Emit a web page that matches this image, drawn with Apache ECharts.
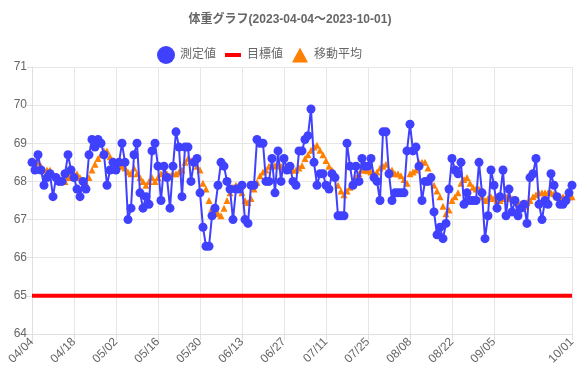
<!DOCTYPE html>
<html><head><meta charset="utf-8">
<script src="https://cdn.jsdelivr.net/npm/echarts@6/dist/echarts.min.js"></script>
<style>html,body{margin:0;padding:0;background:#fff}#c{width:580px;height:390px}</style>
</head><body><div id="c"></div>
<script>
var titleText = '体重グラフ(2023-04-04〜2023-10-01)';
var seriesNames = ['測定値', '目標値', '移動平均'];
var startDate = '2023-04-04';
var dayCount = 181;
var yTicks = [64, 65, 66, 67, 68, 69, 70, 71];
var targetWeight = 65;
var weights = [
 68.5, 68.3, 68.7, 68.3, 67.9, 68.1, 68.2, 67.6, 68.1, 68.0,
 68.0, 68.2, 68.7, 68.3, 68.1, 67.8, 67.6, 68.0, 67.8, 68.7,
 69.1, 68.9, 69.1, 69.0, 68.7, 67.9, 68.3, 68.5, 68.3, 68.5,
 69.0, 68.5, 67.0, 67.3, 68.7, 69.0, 67.7, 67.3, 67.6, 67.4,
 68.8, 69.0, 68.4, 67.5, 68.4, 68.1, 67.3, 68.4, 69.3, 68.9,
 67.6, 68.9, 68.9, 68.0, 68.5, 68.6, 67.7, 66.8, 66.3, 66.3,
 67.1, 67.3, 67.9, 68.5, 68.4, 68.0, 67.8, 67.0, 67.8, 67.8,
 67.9, 67.0, 66.9, 67.9, 67.9, 69.1, 69.0, 69.0, 68.0, 68.0,
 68.6, 67.7, 68.8, 68.0, 68.6, 68.3, 68.4, 68.0, 67.9, 68.8,
 68.8, 69.1, 69.2, 69.9, 68.5, 67.9, 68.2, 68.2, 67.9, 67.8,
 68.2, 68.1, 67.1, 67.1, 67.1, 69.0, 68.4, 67.9, 68.4, 68.0,
 68.6, 68.4, 68.4, 68.6, 68.1, 68.0, 67.5, 69.3, 69.3, 68.2,
 67.5, 67.7, 67.7, 67.7, 67.7, 68.8, 69.5, 68.8, 68.9, 68.4,
 67.5, 68.0, 68.0, 68.1, 67.2, 66.6, 66.8, 66.5, 66.9, 67.8,
 68.6, 68.3, 68.2, 68.5, 67.4, 67.7, 67.5, 67.5, 67.5, 68.5,
 67.7, 66.5, 67.1, 68.3, 67.9, 67.3, 67.6, 68.3, 67.1, 67.8,
 67.2, 67.5, 67.1, 67.3, 67.4, 66.9, 68.1, 68.2, 68.6, 67.4,
 67.0, 67.5, 67.4, 68.2, 67.9, 67.6, 67.4, 67.4, 67.5, 67.7,
 67.9
];
var movingAvg = [
 68.5, 68.5, 68.5, 68.4, 68.3, 68.3, 68.3, 68.2, 68.1, 68.1,
 68.0, 68.0, 68.1, 68.2, 68.2, 68.2, 68.1, 68.0, 67.95, 68.1,
 68.3, 68.45, 68.6, 68.7, 68.8, 68.8, 68.65, 68.55, 68.5, 68.45,
 68.4, 68.35, 68.25, 68.2, 68.35, 68.2, 68.1, 68.0, 67.9, 68.0,
 68.1, 68.0, 68.1, 68.2, 68.2, 68.2, 68.15, 68.2, 68.2, 68.25,
 68.3, 68.5, 68.6, 68.55, 68.5, 68.4, 68.3, 67.95, 67.8, 67.5,
 67.3, 67.2, 67.15, 67.1, 67.3, 67.5, 67.7, 67.85, 67.9, 67.85,
 67.7, 67.5, 67.45, 67.55, 67.8, 67.98, 68.15, 68.25, 68.3, 68.4,
 68.4, 68.42, 68.42, 68.4, 68.35, 68.3, 68.3, 68.3, 68.3, 68.35,
 68.42, 68.6, 68.7, 68.82, 68.9, 68.95, 68.82, 68.7, 68.55, 68.4,
 68.3, 68.1, 67.9, 67.75, 67.65, 67.75, 67.85, 67.98, 68.1, 68.2,
 68.3, 68.3, 68.28, 68.25, 68.2, 68.25, 68.35, 68.4, 68.45, 68.3,
 68.3, 68.2, 68.2, 68.15, 68.05, 67.95, 68.2, 68.25, 68.3, 68.5,
 68.5, 68.5, 68.35, 68.15, 67.9, 67.75, 67.6, 67.35, 67.15, 67.25,
 67.5, 67.6, 67.7, 67.95, 68.05, 68.1, 67.95, 67.85, 67.8, 67.8,
 67.6, 67.5, 67.55, 67.6, 67.55, 67.5, 67.5, 67.55, 67.6, 67.55,
 67.55, 67.5, 67.45, 67.42, 67.35, 67.45, 67.5, 67.6, 67.65, 67.7,
 67.7, 67.7, 67.7, 67.7, 67.68, 67.6, 67.6, 67.6, 67.6, 67.6,
 67.6
];

// day categories MM/DD
var categories = [];
(function(){
  var p = startDate.split('-');
  var t0 = Date.UTC(+p[0], +p[1]-1, +p[2]);
  for (var i = 0; i < dayCount; i++) {
    var d = new Date(t0 + i*86400000);
    var mm = ('0'+(d.getUTCMonth()+1)).slice(-2), dd = ('0'+d.getUTCDate()).slice(-2);
    categories.push(mm + '/' + dd);
  }
})();
var targetData = categories.map(function(){ return targetWeight; });
var tickFn = function(i){ return (i % 14 === 0 && i <= 154) || i === categories.length - 1; };

var FONT = '"Liberation Sans", "Noto Sans CJK JP", sans-serif';
var chart = echarts.init(document.getElementById('c'), null, {renderer:'canvas'});
chart.setOption({
  animation:false,
  textStyle:{fontFamily:FONT},
  title:{text:titleText, left:'center', top:9, textStyle:{fontSize:12, fontWeight:'bold', color:'#666', fontFamily:FONT}},
  legend:{
    left:152, top:41, itemWidth:18, itemHeight:18, itemGap:8,
    textStyle:{color:'#666', fontSize:12, fontFamily:FONT},
    data:[
      {name:seriesNames[0], icon:'circle', itemStyle:{color:'#4040ff'}},
      {name:seriesNames[1], icon:'path://M0,0 M1,7 L17,7 L17,11 L1,11 Z M18,18', itemStyle:{color:'#ff0000'}},
      {name:seriesNames[2], icon:'path://M0,0 M9,1.5 L17,16.5 L1,16.5 Z M18,18', itemStyle:{color:'#ff8000'}}
    ]
  },
  grid:{left:32, right:8, top:67, bottom:56},
  xAxis:{
    type:'category', data:categories, boundaryGap:false,
    axisLine:{show:true, lineStyle:{color:'#e0e0e0'}},
    axisTick:{show:true, length:6, interval:tickFn, lineStyle:{color:'#e0e0e0'}},
    axisLabel:{interval:tickFn, rotate:45, color:'#666', fontSize:12, margin:6, fontFamily:FONT},
    splitLine:{show:true, interval:tickFn, lineStyle:{color:'#e6e6e6'}}
  },
  yAxis:{
    type:'value', min:yTicks[0], max:yTicks[yTicks.length-1], interval:1,
    axisLine:{show:true, lineStyle:{color:'#e0e0e0'}},
    axisTick:{show:true, length:5, lineStyle:{color:'#e0e0e0'}},
    axisLabel:{color:'#666', fontSize:12, margin:5, fontFamily:FONT},
    splitLine:{show:true, lineStyle:{color:'#e6e6e6'}}
  },
  series:[
    {name:seriesNames[0], type:'line', data:weights, z:5,
     symbol:'circle', symbolSize:9, showSymbol:true, showAllSymbol:true,
     itemStyle:{color:'#4040ff'}, lineStyle:{color:'#4040ff', width:2}},
    {name:seriesNames[1], type:'line', data:targetData, z:3,
     symbol:'none', itemStyle:{color:'#ff0000'}, lineStyle:{color:'#ff0000', width:4}},
    {name:seriesNames[2], type:'line', data:movingAvg, z:2,
     symbol:'triangle', symbolSize:7, showSymbol:true, showAllSymbol:true,
     itemStyle:{color:'#ff8000'}, lineStyle:{width:0, opacity:0}}
  ]
});
</script>
</body></html>
